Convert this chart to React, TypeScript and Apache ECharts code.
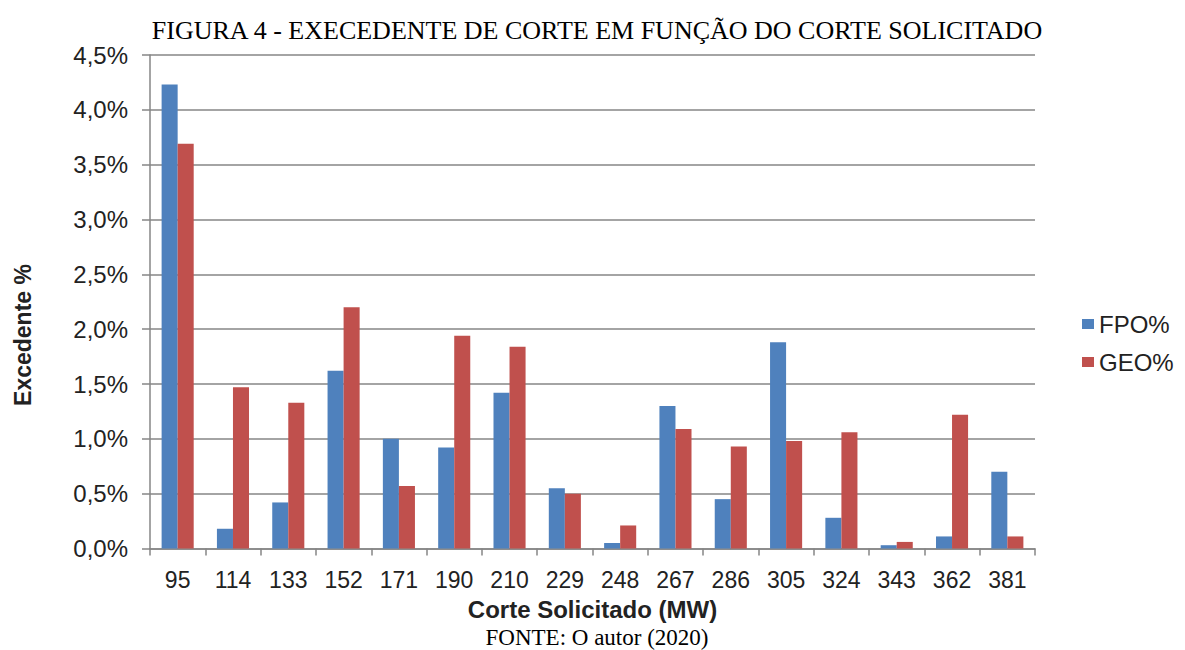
import React, { useEffect, useRef } from "react";
import * as echarts from "echarts";

const categories = ["95", "114", "133", "152", "171", "190", "210", "229", "248", "267", "286", "305", "324", "343", "362", "381"];
const fpo = [4.23, 0.18, 0.42, 1.62, 1.0, 0.92, 1.42, 0.55, 0.05, 1.3, 0.45, 1.88, 0.28, 0.03, 0.11, 0.7];
const geo = [3.69, 1.47, 1.33, 2.2, 0.57, 1.94, 1.84, 0.5, 0.21, 1.09, 0.93, 0.98, 1.06, 0.06, 1.22, 0.11];

export default function App() {
  const ref = useRef<HTMLDivElement>(null);
  useEffect(() => {
    const chart = echarts.init(ref.current!, null, { renderer: "svg" });
    chart.setOption({
      animation: false,
      backgroundColor: "#ffffff",
      title: [
        {
          text: "FIGURA 4 - EXECEDENTE DE CORTE EM FUNÇÃO DO CORTE SOLICITADO",
          left: 592,
          top: 12,
          textAlign: "center",
          textStyle: { fontFamily: "Liberation Serif", fontSize: 26, fontWeight: "normal", color: "#000" },
        },
        {
          text: "FONTE: O autor (2020)",
          left: 592,
          top: 621,
          textAlign: "center",
          textStyle: { fontFamily: "Liberation Serif", fontSize: 23, lineHeight: 23, fontWeight: "normal", color: "#000" },
        },
      ],
      graphic: [
        {
          type: "text",
          x: 23,
          y: 335,
          rotation: Math.PI / 2,
          style: {
            text: "Excedente %",
            fontFamily: "Liberation Sans",
            fontSize: 23,
            fontWeight: "bold",
            fill: "#222",
            textAlign: "center",
            textVerticalAlign: "middle",
          },
        },
      ],
      legend: {
        orient: "vertical",
        left: 1077,
        top: 307,
        itemWidth: 12,
        itemHeight: 10,
        itemGap: 14,
        icon: "rect",
        textStyle: { fontFamily: "Liberation Sans", fontSize: 24, color: "#222" },
        data: ["FPO%", "GEO%"],
      },
      grid: { left: 150, right: 150, top: 55, bottom: 101.5, containLabel: false },
      xAxis: {
        type: "category",
        data: categories,
        name: "Corte Solicitado (MW)",
        nameLocation: "middle",
        nameGap: 49,
        nameTextStyle: { fontFamily: "Liberation Sans", fontSize: 24, lineHeight: 24, fontWeight: "bold", color: "#222" },
        axisLine: { lineStyle: { color: "#868686", width: 1.5 } },
        axisTick: { show: true, length: 7, lineStyle: { color: "#868686", width: 1.5 } },
        axisLabel: { margin: 20, fontFamily: "Liberation Sans", fontSize: 23, color: "#222" },
      },
      yAxis: {
        type: "value",
        min: 0,
        max: 4.5,
        interval: 0.5,
        axisLine: { show: true, lineStyle: { color: "#868686", width: 1.5 } },
        axisTick: { show: true, length: 8, lineStyle: { color: "#868686", width: 1.5 } },
        splitLine: { lineStyle: { color: "#868686", width: 1.5 } },
        axisLabel: {
          margin: 22,
          fontFamily: "Liberation Sans",
          fontSize: 24,
          color: "#222",
          formatter: (v: number) => v.toFixed(1).replace(".", ",") + "%",
        },
      },
      series: [
        {
          name: "FPO%",
          type: "bar",
          data: fpo,
          barGap: "0%",
          barCategoryGap: "42%",
          itemStyle: { color: "#4F81BD" },
        },
        {
          name: "GEO%",
          type: "bar",
          data: geo,
          itemStyle: { color: "#C0504D" },
        },
      ],
    });
    return () => chart.dispose();
  }, []);
  return <div ref={ref} style={{ position: "fixed", left: 0, top: 0, width: 1185, height: 650 }} />;
}
